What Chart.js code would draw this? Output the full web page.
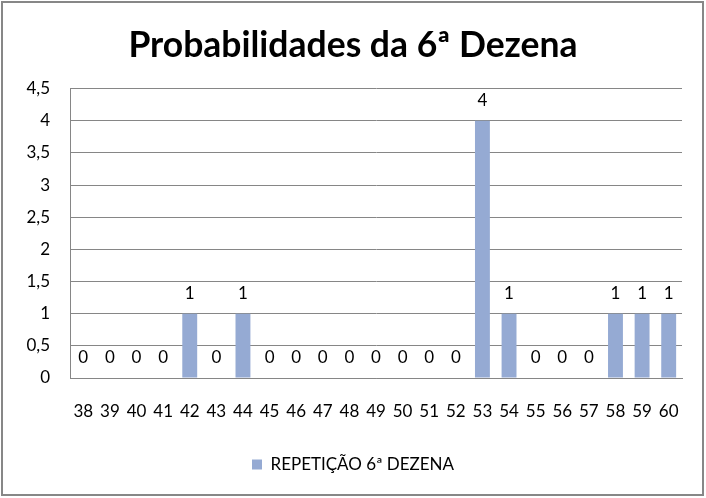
<!DOCTYPE html>
<html>
<head>
<meta charset="utf-8">
<script src="https://cdn.jsdelivr.net/npm/chart.js@4"></script>
<style>
  html, body { margin: 0; padding: 0; background: #fff; }
  canvas { display: block; }
</style>
</head>
<body>
<canvas id="c" width="706" height="498"></canvas>
<script>
const titleText = 'Probabilidades da 6ª Dezena';
const seriesName = 'REPETIÇÃO 6ª DEZENA';
const categories = ['38','39','40','41','42','43','44','45','46','47','48','49','50','51','52','53','54','55','56','57','58','59','60'];
const values = [0,0,0,0,1,0,1,0,0,0,0,0,0,0,0,4,1,0,0,0,1,1,1];
const yTicksMax = 4.5;
const yStep = 0.5;

const TITLE_FONT = "Lato, 'Open Sans', sans-serif";
const FONT = "Lato, 'Open Sans', sans-serif";
const SMALL = 17;
const gridColor = '#868686';
const barColor = '#95AAD3';

const borderPlugin = {
  id: 'outerBorder',
  beforeDraw(chart) {
    const ctx = chart.ctx;
    ctx.save();
    ctx.fillStyle = '#fff';
    ctx.fillRect(0, 0, chart.width, chart.height);
    ctx.restore();
  },
  afterDraw(chart) {
    const ctx = chart.ctx;
    ctx.save();
    ctx.strokeStyle = '#878787';
    ctx.lineWidth = 2;
    ctx.strokeRect(2, 2, 701, 493);
    ctx.restore();
  }
};

const labelPlugin = {
  id: 'valueLabels',
  afterDatasetsDraw(chart) {
    const ctx = chart.ctx;
    const meta = chart.getDatasetMeta(0);
    ctx.save();
    ctx.font = SMALL + 'px ' + FONT;
    ctx.fillStyle = '#000';
    ctx.textAlign = 'center';
    ctx.textBaseline = 'middle';
    meta.data.forEach((bar, i) => {
      ctx.fillText(String(values[i]), bar.x, bar.y - 20);
    });
    ctx.restore();
  }
};

function draw() {
  new Chart(document.getElementById('c'), {
    type: 'bar',
    data: {
      labels: categories,
      datasets: [{
        label: seriesName,
        data: values,
        backgroundColor: barColor,
        borderWidth: 0,
        barPercentage: 0.56,
        categoryPercentage: 1.0
      }]
    },
    options: {
      responsive: false,
      animation: false,
      devicePixelRatio: 1,
      layout: { padding: { left: 17, right: 17, top: 0, bottom: 15 } },
      plugins: {
        title: {
          display: true,
          text: titleText,
          color: '#000',
          font: { family: TITLE_FONT, size: 35.5, weight: 'bold' },
          padding: { top: 24, bottom: 22 }
        },
        legend: {
          display: true,
          position: 'bottom',
          labels: {
            color: '#000',
            font: { family: FONT, size: SMALL },
            boxWidth: 10,
            boxHeight: 10,
            padding: 10
          }
        },
        tooltip: { enabled: false }
      },
      scales: {
        x: {
          grid: { display: false, drawTicks: false },
          border: { display: true, color: gridColor },
          ticks: { color: '#000', font: { family: FONT, size: SMALL }, padding: 23, maxRotation: 0, autoSkip: false },
          afterFit(scale) { scale.height = 68; }
        },
        y: {
          min: 0,
          max: yTicksMax,
          grid: { color: gridColor, drawTicks: false },
          border: { display: true, color: gridColor },
          ticks: {
            stepSize: yStep,
            color: '#000',
            font: { family: FONT, size: SMALL },
            padding: 20,
            callback: v => String(v).replace('.', ',')
          },
          afterFit(scale) { scale.width = 53; }
        },
        spacer: {
          type: 'linear',
          position: 'right',
          display: true,
          grid: { display: false, drawTicks: false },
          border: { display: false },
          ticks: { display: false },
          afterFit(scale) { scale.width = 7; }
        }
      }
    },
    plugins: [borderPlugin, labelPlugin]
  });
}

Promise.all([
  document.fonts.load('bold 36px Lato'),
  document.fonts.load('17px Lato')
]).then(draw, draw);
</script>
</body>
</html>
